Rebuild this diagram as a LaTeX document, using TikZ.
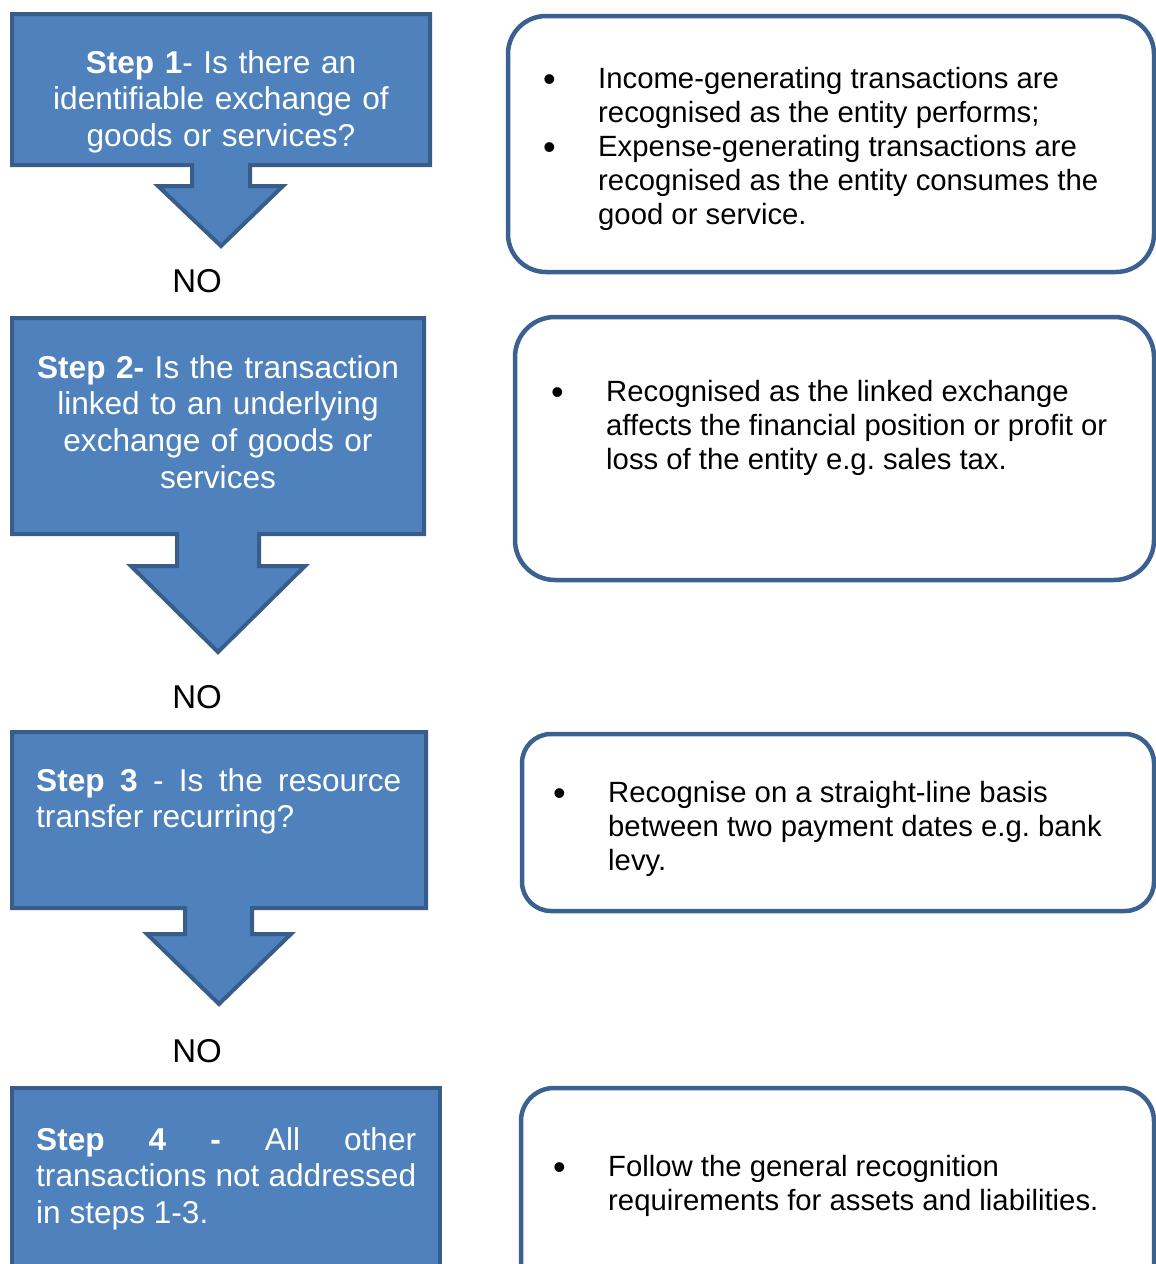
\documentclass[tikz,border=0pt]{standalone}
\usepackage{fontspec}
\setmainfont{Liberation Sans}
\usetikzlibrary{positioning}
\definecolor{stepfill}{HTML}{4F81BD}
\definecolor{stepline}{HTML}{385D8A}
\definecolor{noteline}{HTML}{3B6191}
\tikzset{
  callout/.style={fill=stepfill,draw=stepline,line width=4pt,line join=miter},
  notebox/.style={draw=noteline,line width=4.5pt,fill=white},
  steptext/.style={text=white,inner sep=0pt,font=\fontsize{31.6}{36.7}\selectfont},
  notetext/.style={inner sep=0pt,anchor=base west,font=\fontsize{29.3}{34.2}\selectfont},
  nolabel/.style={inner sep=0pt,font=\fontsize{33}{36}\selectfont}
}
\newcommand{\bul}{\raisebox{-3pt}{\fontsize{36}{34.2}\selectfont\textbullet}}
\newenvironment{notelist}{\begin{tabular}[t]{@{}p{55pt}@{}l@{}}}{\end{tabular}}
\frenchspacing
\hyphenpenalty=10000
\exhyphenpenalty=10000

\begin{document}
\begin{tikzpicture}[x=1pt,y=-1pt]
  \clip (0,0) rectangle (1156,1264);
  % left column: question boxes with their down arrows
  \filldraw[callout] (12,14) -- (430,14) -- (430,165) -- (250,165) -- (250,186) -- (283,186)
    -- (221,246) -- (158,186) -- (192,186) -- (192,165) -- (12,165) -- cycle;
  \filldraw[callout] (12,318) -- (424,318) -- (424,534) -- (259,534) -- (259,566) -- (305,566)
    -- (218,652) -- (131,566) -- (177,566) -- (177,534) -- (12,534) -- cycle;
  \filldraw[callout] (12,732) -- (426,732) -- (426,908) -- (252,908) -- (252,934) -- (291,934)
    -- (219,1004) -- (147,934) -- (185,934) -- (185,908) -- (12,908) -- cycle;
  \filldraw[callout] (12,1088) rectangle (440,1300);

  \node[steptext,anchor=north,text width=390pt,align=center] (step1) at (221,50)
    {\textbf{Step 1}- Is there an\\ identifiable exchange of\\ goods or services?};
  \node[steptext,anchor=north,text width=390pt,align=center] (step2) at (218,355)
    {\textbf{Step 2-} Is the transaction\\ linked to an underlying\\ exchange of goods or\\ services};
  \node[steptext,anchor=north west,text width=365pt,align=justify] (step3) at (36,768)
    {\textbf{Step 3} - Is the resource\linebreak transfer recurring?};
  \node[steptext,anchor=north west,text width=380pt,align=justify] (step4) at (36,1127)
    {\textbf{Step 4 -} All other\linebreak transactions not addressed\linebreak in steps 1-3.};

  \node[nolabel] (no1) at (197,281) {NO};
  \node[nolabel] (no2) at (197,697) {NO};
  \node[nolabel] (no3) at (197,1051) {NO};

  % right column: what to recognise
  \draw[notebox,rounded corners=38pt] (508,16) rectangle (1154,272);
  \draw[notebox,rounded corners=40pt] (515,317) rectangle (1154,580);
  \draw[notebox,rounded corners=29pt] (522,734) rectangle (1154,911);
  \draw[notebox,rounded corners=33pt] (521,1088) rectangle (1154,1300);

  \node[notetext] (note1) at (543,88)
    {\begin{notelist}
     \bul & Income-generating transactions are\\
          & recognised as the entity performs;\\
     \bul & Expense-generating transactions are\\
          & recognised as the entity consumes the\\
          & good or service.
     \end{notelist}};
  \node[notetext] (note2) at (551,401)
    {\begin{notelist}
     \bul & Recognised as the linked exchange\\
          & affects the financial position or profit or\\
          & loss of the entity e.g. sales tax.
     \end{notelist}};
  \node[notetext] (note3) at (553,802)
    {\begin{notelist}
     \bul & Recognise on a straight-line basis\\
          & between two payment dates e.g. bank\\
          & levy.
     \end{notelist}};
  \node[notetext] (note4) at (553,1176)
    {\begin{notelist}
     \bul & Follow the general recognition\\
          & requirements for assets and liabilities.
     \end{notelist}};
\end{tikzpicture}
\end{document}
